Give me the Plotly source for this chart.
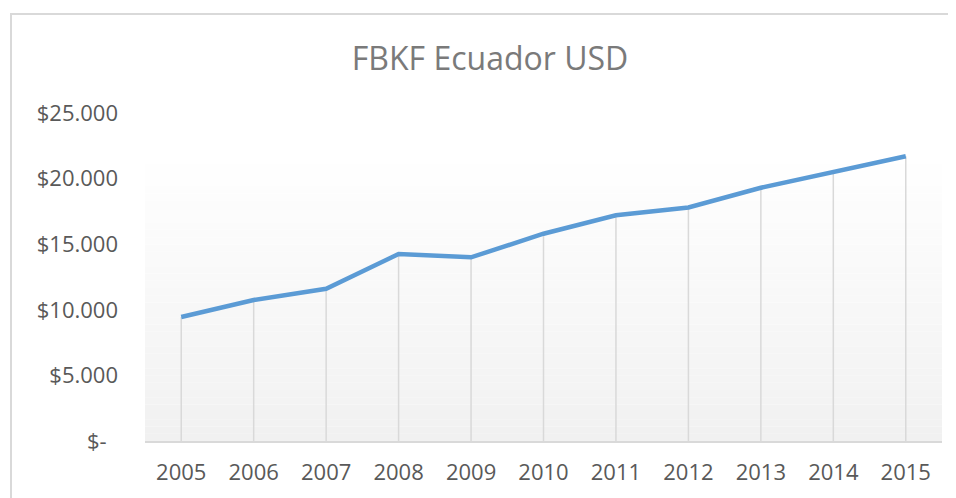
import plotly.graph_objects as go

years = ["2005", "2006", "2007", "2008", "2009", "2010", "2011", "2012", "2013", "2014", "2015"]
fbkf = [9450, 10750, 11600, 14250, 14000, 15800, 17200, 17800, 19300, 20500, 21700]
ytick_vals = [0, 5000, 10000, 15000, 20000, 25000]
ytick_text = ["$-\u00a0\u00a0", "$5.000", "$10.000", "$15.000", "$20.000", "$25.000"]

# page body has an 8px margin, so the figure is 948x490 placed at (8, 8)
OFF = 8
W, H = 956 - OFF, 498 - OFF
L, R, T, B = 145 - OFF, 14, 113 - OFF, 55

fig = go.Figure()

# drop lines
dx, dy = [], []
for yr, v in zip(years, fbkf):
    dx += [yr, yr, None]
    dy += [0, v, None]
fig.add_trace(go.Scatter(x=dx, y=dy, mode="lines",
                         line=dict(color="#d9d9d9", width=1.5),
                         hoverinfo="skip", showlegend=False))

fig.add_trace(go.Scatter(x=years, y=fbkf, mode="lines",
                         line=dict(color="#5b9bd5", width=4.5),
                         showlegend=False))

pw = W - L - R
ph = H - T - B
def px2x(p):
    return (p - OFF - L) / pw
def py2y(p):
    return (H - B - (p - OFF)) / ph

shapes = []
# gradient background of plot area (white top -> light gray bottom)
n = 40
top = py2y(150)
for i in range(n):
    y0 = top * i / n
    y1 = top * (i + 1) / n
    t = i / (n - 1)  # 0 bottom, 1 top
    c = int(round(241 + (255 - 241) * t))
    shapes.append(dict(type="rect", xref="paper", yref="paper", x0=0, x1=1,
                       y0=y0, y1=y1, fillcolor=f"rgb({c},{c},{c})",
                       line=dict(width=0), layer="below"))
# outer chart border (left and top)
shapes.append(dict(type="line", xref="paper", yref="paper",
                   x0=px2x(11), x1=px2x(11), y0=py2y(13.5), y1=py2y(520),
                   line=dict(color="#d9d9d9", width=2)))
shapes.append(dict(type="line", xref="paper", yref="paper",
                   x0=px2x(10), x1=px2x(980), y0=py2y(13.5), y1=py2y(13.5),
                   line=dict(color="#d9d9d9", width=2)))

fig.update_layout(
    width=W, height=H,
    margin=dict(l=L, r=R, t=T, b=B),
    paper_bgcolor="white",
    plot_bgcolor="rgba(0,0,0,0)",
    shapes=shapes,
    title=dict(text="FBKF Ecuador USD", x=(490 - OFF) / W, xanchor="center",
               y=1 - (59 - OFF) / H, yanchor="middle", xref="container", yref="container",
               font=dict(family="Open Sans", size=32, color="#7a7a7a")),
    font=dict(family="Open Sans", size=22, color="#595959"),
    xaxis=dict(type="category", range=[-0.5, 10.5], showgrid=False,
               showline=True, linecolor="#d9d9d9", linewidth=2,
               ticks="", ticklabelstandoff=11, zeroline=False,
               tickfont=dict(size=22, color="#595959")),
    yaxis=dict(range=[0, 25000], tickvals=ytick_vals, ticktext=ytick_text,
               showgrid=False, zeroline=False, showline=False, ticks="",
               ticklabelstandoff=26,
               tickfont=dict(size=22, color="#595959")),
)

fig.write_html("out.html")
